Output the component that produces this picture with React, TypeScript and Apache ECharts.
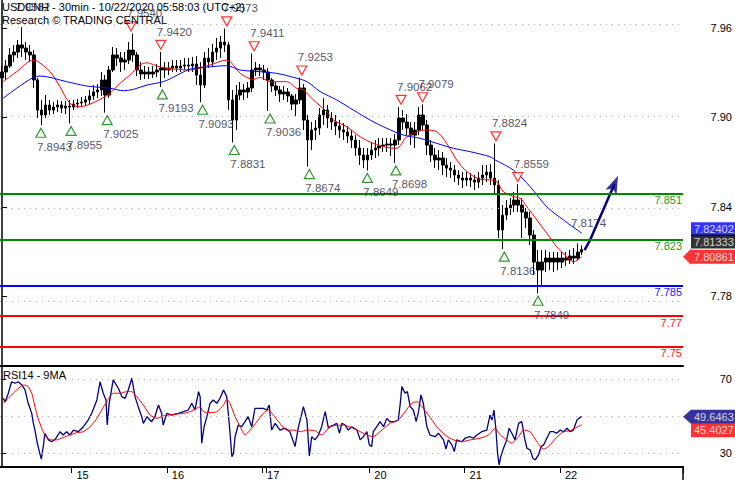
import React, { useEffect, useRef } from 'react';
import * as echarts from 'echarts';

// ---------- data ----------
const sessionDays = ['14', '15', '16', '17', '19', '20', '21', '22'];
const sessionBars = [18, 24, 24, 1, 26, 24, 24, 6];
const dayLabels = ['', '15', '16', '17', '', '20', '21', '22'];
const futureSlots = 25;

const opens = [
  7.9251, 7.9290, 7.9329, 7.9401, 7.9420, 7.9466, 7.9446, 7.9420, 7.9401, 7.9238,
  7.9042, 7.9010, 7.9075, 7.9042, 7.9062, 7.9075, 7.9055, 7.9068, 7.9062, 7.9081,
  7.9088, 7.9094, 7.9108, 7.9134, 7.9160, 7.9173, 7.9238, 7.9140, 7.9303, 7.9401,
  7.9381, 7.9355, 7.9368, 7.9433, 7.9401, 7.9303, 7.9277, 7.9290, 7.9277, 7.9290,
  7.9303, 7.9316, 7.9303, 7.9316, 7.9329, 7.9316, 7.9329, 7.9336, 7.9329, 7.9342,
  7.9270, 7.9205, 7.9381, 7.9355, 7.9420, 7.9446, 7.9485, 7.9466, 7.9108, 7.8977,
  7.9140, 7.9173, 7.9160, 7.9186, 7.9303, 7.9316, 7.9303, 7.9290, 7.9238, 7.9199,
  7.9173, 7.9147, 7.9160, 7.9134, 7.9081, 7.9108, 7.9186, 7.8977, 7.8847, 7.8912,
  7.8925, 7.9010, 7.9042, 7.8990, 7.8964, 7.8938, 7.8912, 7.8899, 7.8873, 7.8847,
  7.8795, 7.8749, 7.8717, 7.8749, 7.8782, 7.8795, 7.8808, 7.8814, 7.8821, 7.8814,
  7.8847, 7.8990, 7.8964, 7.8925, 7.8879, 7.8912, 7.9010, 7.8945, 7.8814, 7.8749,
  7.8717, 7.8730, 7.8684, 7.8664, 7.8651, 7.8619, 7.8599, 7.8586, 7.8599, 7.8586,
  7.8573, 7.8599, 7.8619, 7.8638, 7.8599, 7.8554, 7.8261, 7.8358, 7.8404, 7.8423,
  7.8456, 7.8423, 7.8378, 7.8339, 7.8228, 7.8052, 7.8000, 7.8052, 7.8078, 7.8052,
  7.8078, 7.8052, 7.8078, 7.8065, 7.8091, 7.8078, 7.8117,
];
const closes = [
  7.9290, 7.9329, 7.9401, 7.9420, 7.9466, 7.9446, 7.9420, 7.9401, 7.9238, 7.9042,
  7.9010, 7.9075, 7.9042, 7.9062, 7.9075, 7.9055, 7.9068, 7.9062, 7.9081, 7.9088,
  7.9094, 7.9108, 7.9134, 7.9160, 7.9173, 7.9238, 7.9140, 7.9303, 7.9401, 7.9381,
  7.9355, 7.9368, 7.9433, 7.9401, 7.9303, 7.9277, 7.9290, 7.9277, 7.9290, 7.9303,
  7.9316, 7.9303, 7.9316, 7.9329, 7.9316, 7.9329, 7.9336, 7.9329, 7.9342, 7.9270,
  7.9205, 7.9381, 7.9355, 7.9420, 7.9446, 7.9485, 7.9466, 7.9108, 7.8977, 7.9140,
  7.9173, 7.9160, 7.9186, 7.9303, 7.9316, 7.9303, 7.9290, 7.9238, 7.9199, 7.9173,
  7.9147, 7.9160, 7.9134, 7.9081, 7.9108, 7.9186, 7.8977, 7.8847, 7.8912, 7.8925,
  7.9010, 7.9042, 7.8990, 7.8964, 7.8938, 7.8912, 7.8899, 7.8873, 7.8847, 7.8795,
  7.8749, 7.8717, 7.8749, 7.8782, 7.8795, 7.8808, 7.8814, 7.8821, 7.8814, 7.8847,
  7.8990, 7.8964, 7.8925, 7.8879, 7.8912, 7.9010, 7.8945, 7.8814, 7.8749, 7.8717,
  7.8730, 7.8684, 7.8664, 7.8651, 7.8619, 7.8599, 7.8586, 7.8599, 7.8586, 7.8573,
  7.8599, 7.8619, 7.8638, 7.8599, 7.8554, 7.8261, 7.8358, 7.8404, 7.8423, 7.8456,
  7.8423, 7.8378, 7.8339, 7.8228, 7.8052, 7.8000, 7.8052, 7.8078, 7.8052, 7.8078,
  7.8052, 7.8078, 7.8065, 7.8091, 7.8078, 7.8117, 7.8133,
];
const lows = [
  7.9186, 7.9238, 7.9316, 7.9355, 7.9381, 7.9388, 7.9368, 7.9355, 7.9186, 7.8990,
  7.8943, 7.8990, 7.9010, 7.9016, 7.9029, 7.9023, 7.9016, 7.8955, 7.9042, 7.9055,
  7.9062, 7.9068, 7.9081, 7.9108, 7.9121, 7.9134, 7.9025, 7.9121, 7.9290, 7.9329,
  7.9290, 7.9303, 7.9342, 7.9355, 7.9264, 7.9238, 7.9244, 7.9244, 7.9251, 7.9257,
  7.9193, 7.9251, 7.9270, 7.9290, 7.9290, 7.9290, 7.9303, 7.9290, 7.9290, 7.9205,
  7.9093, 7.9186, 7.9316, 7.9329, 7.9368, 7.9381, 7.9420, 7.9042, 7.8831, 7.8912,
  7.9108, 7.9108, 7.9121, 7.9160, 7.9264, 7.9264, 7.9238, 7.9036, 7.9160, 7.9134,
  7.9094, 7.9108, 7.9094, 7.9042, 7.9003, 7.9081, 7.8912, 7.8674, 7.8782, 7.8847,
  7.8879, 7.8945, 7.8925, 7.8912, 7.8879, 7.8860, 7.8847, 7.8827, 7.8795, 7.8743,
  7.8684, 7.8664, 7.8649, 7.8717, 7.8730, 7.8743, 7.8769, 7.8769, 7.8743, 7.8698,
  7.8814, 7.8912, 7.8879, 7.8814, 7.8795, 7.8879, 7.8912, 7.8749, 7.8704, 7.8664,
  7.8651, 7.8619, 7.8606, 7.8599, 7.8573, 7.8554, 7.8534, 7.8547, 7.8541, 7.8521,
  7.8534, 7.8554, 7.8573, 7.8554, 7.8489, 7.8208, 7.8136, 7.8326, 7.8358, 7.8378,
  7.8378, 7.8208, 7.8274, 7.8163, 7.7967, 7.7849, 7.7902, 7.7987, 7.8000, 7.7987,
  7.8000, 7.8013, 7.8026, 7.8039, 7.8039, 7.8065, 7.8098,
];
const highs = [
  7.9329, 7.9368, 7.9446, 7.9466, 7.9498, 7.9582, 7.9485, 7.9466, 7.9433, 7.9251,
  7.9108, 7.9140, 7.9108, 7.9094, 7.9108, 7.9101, 7.9101, 7.9108, 7.9108, 7.9114,
  7.9127, 7.9134, 7.9173, 7.9205, 7.9212, 7.9290, 7.9270, 7.9329, 7.9453, 7.9446,
  7.9420, 7.9420, 7.9485, 7.9540, 7.9420, 7.9355, 7.9329, 7.9323, 7.9329, 7.9342,
  7.9420, 7.9355, 7.9355, 7.9368, 7.9368, 7.9368, 7.9381, 7.9381, 7.9388, 7.9394,
  7.9355, 7.9420, 7.9446, 7.9472, 7.9511, 7.9525, 7.9573, 7.9485, 7.9173, 7.9205,
  7.9225, 7.9212, 7.9225, 7.9411, 7.9355, 7.9342, 7.9336, 7.9316, 7.9251, 7.9225,
  7.9199, 7.9199, 7.9186, 7.9147, 7.9147, 7.9253, 7.9212, 7.9010, 7.8964, 7.8977,
  7.9055, 7.9121, 7.9075, 7.9029, 7.9010, 7.8977, 7.8958, 7.8938, 7.8912, 7.8879,
  7.8847, 7.8795, 7.8795, 7.8834, 7.8847, 7.8860, 7.8860, 7.8860, 7.8860, 7.8886,
  7.9062, 7.9042, 7.9016, 7.8964, 7.8964, 7.9062, 7.9079, 7.8977, 7.8847, 7.8795,
  7.8782, 7.8769, 7.8730, 7.8704, 7.8684, 7.8651, 7.8638, 7.8638, 7.8632, 7.8619,
  7.8638, 7.8684, 7.8684, 7.8691, 7.8824, 7.8586, 7.8423, 7.8456, 7.8469, 7.8508,
  7.8559, 7.8469, 7.8404, 7.8378, 7.8261, 7.8130, 7.8130, 7.8130, 7.8117, 7.8117,
  7.8117, 7.8117, 7.8117, 7.8130, 7.8143, 7.8174, 7.8160,
];

// moving averages: [bar index, price]
const redMA = [
  [0.3, 7.9227], [3.7, 7.9292], [7.9, 7.9368], [8.7, 7.9364], [12.1, 7.9292], [14.6, 7.9194],
  [17.1, 7.9086], [19.7, 7.9064], [22.2, 7.9081], [24.7, 7.9112], [27.2, 7.9151], [29.7, 7.9216],
  [32.2, 7.9270], [34.8, 7.9336], [36.5, 7.9350], [39, 7.9329], [41.5, 7.9314], [47.4, 7.9303],
  [52.4, 7.9336], [56.6, 7.9368], [57.9, 7.9347], [60, 7.9281], [63.3, 7.9242], [65, 7.9255],
  [67.5, 7.9227], [71.7, 7.9227], [74.2, 7.9184], [75.9, 7.9173], [78.4, 7.9108], [81.8, 7.9031],
  [83.5, 7.8977], [86.8, 7.8934], [90.2, 7.8868], [93.5, 7.8825], [96.9, 7.8799], [99.4, 7.8793],
  [101.9, 7.8868], [104.5, 7.8901], [106.6, 7.8912], [109.5, 7.8901], [112, 7.8825], [114.5, 7.8717],
  [117.1, 7.8640], [120.4, 7.8591], [123.4, 7.8586], [124.6, 7.8575], [126.3, 7.8510], [128.8, 7.8478],
  [130.5, 7.8467], [132.2, 7.8412], [134.7, 7.8326], [137.2, 7.8239], [139.7, 7.8152], [142.2, 7.8087],
  [143.9, 7.8054], [146, 7.8086],
];
const blueMA = [
  [0.3, 7.9119], [3.7, 7.9184], [7.9, 7.9255], [9.6, 7.9264], [16.3, 7.9227], [21.3, 7.9199],
  [27.2, 7.9184], [30.6, 7.9168], [33.1, 7.9177], [36.5, 7.9205], [40.6, 7.9227], [42.3, 7.9245],
  [47.4, 7.9309], [52.4, 7.9324], [56.6, 7.9331], [60, 7.9303], [65, 7.9292], [69.2, 7.9281],
  [73.4, 7.9255], [76.8, 7.9227], [80.1, 7.9163], [84.3, 7.9108], [88.5, 7.9042], [92.7, 7.8977],
  [96.9, 7.8923], [101.1, 7.8879], [105.3, 7.8858], [109.5, 7.8825], [113.7, 7.8793], [117.9, 7.8771],
  [122.9, 7.8738], [124.2, 7.8717], [128.8, 7.8651], [133, 7.8543], [137.2, 7.8412], [141.4, 7.8326],
  [146, 7.8240],
];

// RSI14 and its 9MA: [bar index, value]
const rsi = [
  [0.3, 59.6], [0.8, 57.8], [1.6, 62.3], [2.4, 68.5], [3.3, 67.7], [4.1, 68.5], [5.0, 66.8], [5.8, 64.1],
  [6.6, 56.9], [7.5, 51.5], [7.9, 46.1], [8.3, 42.5], [8.9, 35.4], [9.4, 30.9], [9.9, 26.8], [10.4, 33.6],
  [10.8, 40.8], [11.7, 37.2], [12.5, 36.2], [13.4, 37.5], [14.6, 41.6], [15.4, 39.8], [16.3, 41.6], [17.1, 39.8],
  [18.0, 42.5], [19.2, 41.6], [20.5, 44.3], [21.7, 47.9], [22.6, 51.5], [23.9, 58.7], [24.7, 68.5], [25.5, 62.3],
  [26.2, 58.7], [26.5, 45.2], [27.0, 56.9], [28.0, 69.5], [29.3, 65.0], [30.2, 60.5], [31.0, 59.6], [31.8, 64.1],
  [32.7, 70.4], [33.5, 60.5], [34.3, 55.1], [35.2, 49.7], [35.6, 46.1], [36.5, 49.7], [37.7, 47.0], [38.5, 49.7],
  [39.4, 56.0], [40.2, 51.5], [40.6, 45.2], [41.5, 51.5], [42.7, 50.6], [44.4, 51.5], [45.7, 52.4], [46.9, 53.3],
  [47.8, 56.9], [48.6, 53.3], [49.5, 63.2], [49.9, 60.5], [50.3, 35.4], [50.9, 44.3], [51.6, 49.7], [52.4, 56.9],
  [53.2, 58.7], [54.1, 56.9], [54.9, 59.6], [55.8, 64.1], [56.6, 60.5], [57.3, 44.3], [57.9, 28.2], [58.3, 30.0],
  [58.7, 38.9], [59.5, 45.2], [60.4, 44.3], [61.2, 47.0], [62.0, 49.7], [62.9, 44.3], [63.7, 54.2], [65.8, 54.2],
  [66.7, 53.3], [67.3, 56.0], [67.9, 42.5], [68.8, 46.1], [70.0, 42.5], [71.3, 43.5], [72.5, 41.6], [73.8, 33.6],
  [74.6, 43.5], [75.5, 51.5], [75.9, 55.1], [76.8, 47.9], [77.4, 28.5], [78.0, 38.9], [78.8, 37.2], [79.7, 39.8],
  [80.5, 44.3], [81.4, 52.4], [82.2, 43.5], [82.6, 44.3], [83.5, 45.2], [84.3, 46.1], [85.0, 40.8], [85.6, 46.1],
  [86.4, 45.2], [87.2, 42.5], [88.1, 44.3], [89.4, 42.5], [90.2, 37.2], [91.0, 38.9], [91.9, 41.6], [92.5, 34.5],
  [93.1, 33.6], [93.5, 41.6], [94.4, 44.3], [95.2, 47.0], [96.1, 44.3], [96.9, 48.8], [97.7, 47.0], [99.0, 47.0],
  [99.8, 47.9], [100.3, 56.9], [100.7, 65.9], [101.5, 62.3], [102.1, 63.2], [102.8, 55.1], [103.6, 53.3], [104.3, 47.0],
  [104.9, 52.4], [105.5, 61.4], [106.1, 56.9], [107.0, 44.3], [107.8, 39.8], [109.1, 38.9], [109.9, 40.8], [111.2, 37.2],
  [111.8, 32.2], [112.4, 37.2], [113.3, 34.5], [113.9, 30.9], [114.5, 37.2], [115.8, 36.2], [116.6, 38.1], [117.9, 38.9],
  [118.7, 38.1], [119.6, 39.8], [120.8, 41.6], [122.1, 42.5], [122.9, 50.6], [123.4, 47.9], [123.9, 53.3], [124.4, 42.5],
  [124.8, 30.0], [125.2, 23.7], [125.6, 28.2], [126.3, 32.7], [127.1, 37.2], [127.7, 43.5], [128.4, 40.8], [129.2, 37.2],
  [130.1, 46.1], [130.9, 47.0], [131.6, 38.1], [132.2, 32.7], [133.0, 31.8], [133.7, 27.3], [134.3, 26.4], [135.1, 29.1],
  [135.8, 33.6], [136.4, 34.5], [137.2, 38.1], [138.0, 41.6], [138.9, 41.6], [139.7, 40.8], [140.6, 42.5], [141.4, 41.6],
  [142.3, 43.5], [143.1, 41.6], [143.9, 42.5], [144.8, 47.9], [145.6, 49.4], [146, 49.6463],
];
const rsiMA = [
  [0.3, 56.9], [2.0, 60.5], [3.7, 64.1], [5.4, 66.8], [6.6, 65.9], [7.5, 62.3], [8.3, 55.1], [9.1, 48.8],
  [10.0, 43.5], [10.8, 39.8], [12.1, 37.2], [13.8, 37.2], [15.4, 38.6], [17.1, 39.8], [18.8, 41.1], [20.5, 41.6],
  [22.2, 44.3], [23.9, 48.8], [25.1, 53.3], [26.4, 57.8], [28.0, 62.3], [29.7, 62.3], [31.4, 63.2], [32.7, 63.2],
  [33.9, 60.5], [35.6, 56.0], [37.3, 50.6], [39.0, 48.8], [40.6, 50.1], [43.2, 51.0], [45.7, 51.5], [47.4, 52.4],
  [49.0, 54.2], [49.9, 55.1], [50.7, 52.4], [52.4, 51.9], [54.1, 52.4], [55.8, 56.0], [56.6, 59.1], [57.4, 56.9],
  [58.7, 49.7], [60.0, 44.3], [61.2, 39.8], [62.5, 42.5], [64.2, 47.0], [65.8, 51.5], [67.1, 53.3], [68.3, 50.6],
  [70.0, 46.1], [71.7, 42.5], [73.4, 42.5], [75.1, 41.6], [76.8, 42.5], [78.8, 42.2], [80.5, 39.8], [82.6, 44.3],
  [86.0, 45.2], [89.4, 42.5], [91.9, 39.8], [93.5, 38.9], [95.2, 41.6], [97.7, 46.1], [99.8, 47.9], [101.5, 52.4],
  [103.2, 56.9], [104.5, 57.8], [105.7, 55.1], [107.4, 50.6], [109.5, 44.3], [111.6, 39.8], [113.7, 37.2], [115.8, 36.2],
  [117.9, 37.2], [120.4, 38.1], [122.5, 39.8], [124.2, 43.5], [125.5, 39.8], [127.1, 37.2], [128.4, 35.4], [130.1, 38.9],
  [131.3, 42.5], [133.0, 41.6], [134.7, 36.2], [136.4, 32.2], [137.6, 33.6], [139.7, 38.6], [141.4, 41.6], [143.1, 42.2],
  [146, 45.4027],
];

// axis ticks (labels are rounded values)
const priceTicks = [7.7832, 7.8408, 7.8995, 7.9574];
const rsiTicks = [30, 70];
const rsiGridValues = [30, 50, 70];

// support / resistance levels
const levelValues = [7.851, 7.823, 7.785, 7.77, 7.75];
const levelLabels = ['7.851', '7.823', '7.785', '7.77', '7.75'];
const levelKinds = ['res', 'res', 'pivot', 'sup', 'sup'];

// swing highs / lows: [bar index, price]
const peakPoints = [
  [4.3, 7.9582], [32.5, 7.954], [40.0, 7.942], [56.6, 7.9573], [63.5, 7.9411], [75.5, 7.9253],
  [100.5, 7.9062], [105.9, 7.9079], [124.4, 7.8824], [129.9, 7.8559], [144.3, 7.8174],
];
const peakHasMark = [false, true, true, true, true, true, true, true, true, true, false];
const troughPoints = [
  [9.8, 7.8943], [17.4, 7.8955], [26.5, 7.9025], [40.4, 7.9193], [50.5, 7.9093], [58.5, 7.8831],
  [67.5, 7.9036], [77.4, 7.8674], [92.0, 7.8649], [99.2, 7.8698], [126.5, 7.8136], [135.0, 7.7849],
];

// projected path: start, bend, arrow-head centre
const arrowPath = [[146.7, 7.813], [148.1, 7.8195], [154.25, 7.8561]];

// last values: slow MA, close, fast MA
const lastPrices = [7.82402, 7.81333, 7.80861];
const lastRsi = [49.6463, 45.4027];

// ---------- chart ----------
const FONT = 'Liberation Sans, Arial, Helvetica, sans-serif';

function buildOption() {
  const categories: string[] = [];
  const labelAt: Record<number, string> = {};
  const tickAt = new Set<number>();
  let idx = 0;
  sessionDays.forEach((d, s) => {
    if (s > 0) tickAt.add(idx);
    if (dayLabels[s]) labelAt[idx] = dayLabels[s];
    for (let k = 0; k < sessionBars[s]; k++) categories.push(d + '/' + k);
    idx += sessionBars[s];
  });
  for (let k = 0; k < futureSlots; k++) categories.push('f' + k);
  const xMax = categories.length - 0.5;

  const levelColor: Record<string, string> = { res: '#008800', pivot: '#0000ff', sup: '#ff0000' };
  const levelLabelColor: Record<string, string> = { res: '#1f9a1f', pivot: '#2020ff', sup: '#ff2020' };

  const gridLines = priceTicks.map((t) => ({
    yAxis: t,
    lineStyle: { color: '#b4b4b4', type: [1, 5], width: 1 },
    label: { show: false },
  }));
  const levelLines = levelValues.map((v, i) => ({
    yAxis: v,
    lineStyle: { color: levelColor[levelKinds[i]], type: 'solid', width: 2 },
    label: {
      show: true,
      position: 'insideEndBottom',
      formatter: levelLabels[i],
      color: levelLabelColor[levelKinds[i]],
      fontSize: 11,
      fontFamily: FONT,
      distance: [1, 1],
    },
  }));

  const markLabel = (dy: number) => ({
    show: true,
    position: 'inside',
    align: 'left',
    verticalAlign: 'middle',
    offset: [-4, dy],
    color: '#262640',
    fontSize: 11.5,
    fontFamily: FONT,
    formatter: (p: any) => p.value[1].toFixed(4),
  });

  const pointer = 'path://M8 0 L0 8 L8 16 Z';
  const tag = (value: number, bg: string, dy: number, withPointer: boolean, digits: number) => ({
    value: [xMax, value],
    itemStyle: { color: withPointer ? bg : 'rgba(0,0,0,0)' },
    label: {
      show: true,
      position: 'right',
      distance: 0,
      offset: [0, dy],
      formatter: value.toFixed(digits),
      backgroundColor: bg,
      color: '#ffffff',
      fontSize: 11,
      fontFamily: FONT,
      lineHeight: 13,
      padding: [1, 2, 0, 3],
    },
  });

  return {
    animation: false,
    textStyle: { fontFamily: FONT },
    grid: [
      { left: 0, top: 0, width: 683, height: 366, outerBoundsMode: 'none', containLabel: false },
      { left: 0, top: 366, width: 683, height: 101, outerBoundsMode: 'none', containLabel: false },
    ],
    xAxis: [
      {
        type: 'category', gridIndex: 0, data: categories, boundaryGap: true,
        axisLine: { show: true, lineStyle: { color: '#000', width: 2 } },
        axisTick: { show: false }, axisLabel: { show: false }, splitLine: { show: false },
      },
      { type: 'value', gridIndex: 0, min: -0.5, max: xMax, show: false },
      {
        type: 'category', gridIndex: 1, data: categories, boundaryGap: true,
        axisLine: { show: true, lineStyle: { color: '#000', width: 2 } },
        axisTick: {
          show: true, length: 6, interval: (i: number) => tickAt.has(i),
          lineStyle: { color: '#000', width: 1 },
        },
        axisLabel: {
          show: true, interval: (i: number) => labelAt[i] !== undefined,
          formatter: (_v: string, i: number) => labelAt[i] || '',
          align: 'left', padding: [0, 0, 0, 3], margin: 2,
          color: '#000', fontSize: 11, fontFamily: FONT,
        },
        splitLine: { show: false },
      },
      { type: 'value', gridIndex: 1, min: -0.5, max: xMax, show: false },
    ],
    yAxis: [
      {
        type: 'value', gridIndex: 0, position: 'right', min: 7.7375, max: 7.9759, scale: true,
        axisLine: { show: true, lineStyle: { color: '#000', width: 1.5 } },
        axisTick: { show: true, length: 5, customValues: priceTicks, lineStyle: { color: '#000' } },
        axisLabel: {
          show: true, customValues: priceTicks, formatter: (v: number) => v.toFixed(2),
          align: 'right', margin: 49, color: '#000', fontSize: 11, fontFamily: FONT,
        },
        splitLine: { show: false },
      },
      {
        type: 'value', gridIndex: 1, position: 'right', min: 22.6, max: 77, scale: true,
        axisLine: { show: true, lineStyle: { color: '#000', width: 1.5 } },
        axisTick: { show: true, length: 5, customValues: rsiTicks, lineStyle: { color: '#000' } },
        axisLabel: {
          show: true, customValues: rsiTicks, formatter: (v: number) => String(v),
          align: 'right', margin: 49, color: '#000', fontSize: 11, fontFamily: FONT,
        },
        splitLine: { show: false },
      },
    ],
    graphic: [
      {
        type: 'text', x: 2, y: 7, z: 100,
        style: { text: 'USDCNH - 30min - 10/22/2020 05:58:03 (UTC+2)', fill: '#000', font: '11px ' + FONT, verticalAlign: 'middle' },
      },
      {
        type: 'text', x: 2, y: 20, z: 100,
        style: { text: 'Research \u00A9 TRADING CENTRAL', fill: '#000', font: '11px ' + FONT, verticalAlign: 'middle' },
      },
      {
        type: 'text', x: 3, y: 374.5, z: 100,
        style: { text: 'RSI14 - 9MA', fill: '#000', font: '11px ' + FONT, verticalAlign: 'middle' },
      },
      {
        type: 'line', z: 100, shape: { x1: 683, y1: 466, x2: 683, y2: 480 },
        style: { stroke: '#000', lineWidth: 1.5 },
      },
    ],
    series: [
      {
        type: 'candlestick', xAxisIndex: 0, yAxisIndex: 0, z: 2,
        data: opens.map((o, i) => [o, closes[i], lows[i], highs[i]]),
        barWidth: 3,
        itemStyle: { color: '#000', color0: '#000', borderColor: '#000', borderColor0: '#000', borderWidth: 1 },
        markLine: { silent: true, symbol: ['none', 'none'], animation: false, data: [...gridLines, ...levelLines] },
      },
      {
        type: 'line', xAxisIndex: 1, yAxisIndex: 0, z: 3, data: redMA, showSymbol: false, smooth: 0.3,
        lineStyle: { color: '#ff0000', width: 1 }, silent: true,
      },
      {
        type: 'line', xAxisIndex: 1, yAxisIndex: 0, z: 3, data: blueMA, showSymbol: false, smooth: 0.3,
        lineStyle: { color: '#0000ff', width: 1 }, silent: true,
      },
      {
        type: 'line', xAxisIndex: 1, yAxisIndex: 0, z: 4, data: arrowPath, showSymbol: false,
        lineStyle: { color: '#000080', width: 2.5 }, silent: true,
      },
      {
        type: 'scatter', xAxisIndex: 1, yAxisIndex: 0, z: 5, silent: true, clip: false,
        data: [arrowPath[2]],
        symbol: 'path://M6 0 L12 18 L6 14 L0 18 Z', symbolSize: [12, 18], symbolRotate: -23,
        itemStyle: { color: '#000080' },
      },
      {
        type: 'scatter', xAxisIndex: 1, yAxisIndex: 0, z: 5, silent: true,
        data: troughPoints, symbol: 'triangle', symbolSize: [10, 9], symbolOffset: [0, 7.5],
        itemStyle: { color: '#ffffff', borderColor: '#008000', borderWidth: 1.2 },
      },
      {
        type: 'scatter', xAxisIndex: 1, yAxisIndex: 0, z: 5, silent: true,
        data: peakPoints.filter((_p, i) => peakHasMark[i]), symbol: 'triangle', symbolRotate: 180,
        symbolSize: [10, 9], symbolOffset: [0, -7.2],
        itemStyle: { color: '#ffffff', borderColor: '#ff0000', borderWidth: 1.2 },
      },
      {
        type: 'scatter', xAxisIndex: 1, yAxisIndex: 0, z: 6, silent: true,
        data: troughPoints, symbolSize: 1, itemStyle: { color: 'rgba(0,0,0,0)' }, label: markLabel(21.5),
      },
      {
        type: 'scatter', xAxisIndex: 1, yAxisIndex: 0, z: 6, silent: true,
        data: peakPoints, symbolSize: 1, itemStyle: { color: 'rgba(0,0,0,0)' }, label: markLabel(-20.3),
      },
      {
        type: 'scatter', xAxisIndex: 1, yAxisIndex: 0, z: 10, silent: true, clip: false,
        symbol: pointer, symbolSize: [8, 16], symbolOffset: [4, 0],
        data: [
          tag(lastPrices[0], '#0000ff', -4, false, 5),
          tag(lastPrices[1], '#000000', -8, false, 5),
          tag(lastPrices[2], '#ff0000', 0, true, 5),
        ],
      },
      {
        type: 'line', xAxisIndex: 3, yAxisIndex: 1, z: 3, data: rsi, showSymbol: false,
        lineStyle: { color: '#000080', width: 1.3 }, silent: true,
        markLine: {
          silent: true, symbol: ['none', 'none'], animation: false, label: { show: false },
          data: rsiGridValues.map((v) => ({ yAxis: v, lineStyle: { color: '#b4b4b4', type: [1, 5], width: 1 } })),
        },
      },
      {
        type: 'line', xAxisIndex: 3, yAxisIndex: 1, z: 3, data: rsiMA, showSymbol: false, smooth: 0.2,
        lineStyle: { color: '#ff0000', width: 1 }, silent: true,
      },
      {
        type: 'scatter', xAxisIndex: 3, yAxisIndex: 1, z: 10, silent: true, clip: false,
        symbol: pointer, symbolSize: [8, 14], symbolOffset: [4, 0],
        data: [
          tag(lastRsi[0], '#000080', 0, true, 4),
          tag(lastRsi[1], '#ff0000', 5.5, false, 4),
        ],
      },
    ],
  };
}

export default function App() {
  const ref = useRef<HTMLDivElement>(null);
  useEffect(() => {
    if (!ref.current) return;
    const chart = echarts.init(ref.current, null, { renderer: 'svg' });
    chart.setOption(buildOption() as any);
    return () => chart.dispose();
  }, []);
  return (
    <div
      ref={ref}
      style={{ position: 'absolute', left: 0, top: 0, width: 735, height: 480, background: '#fff' }}
    />
  );
}
